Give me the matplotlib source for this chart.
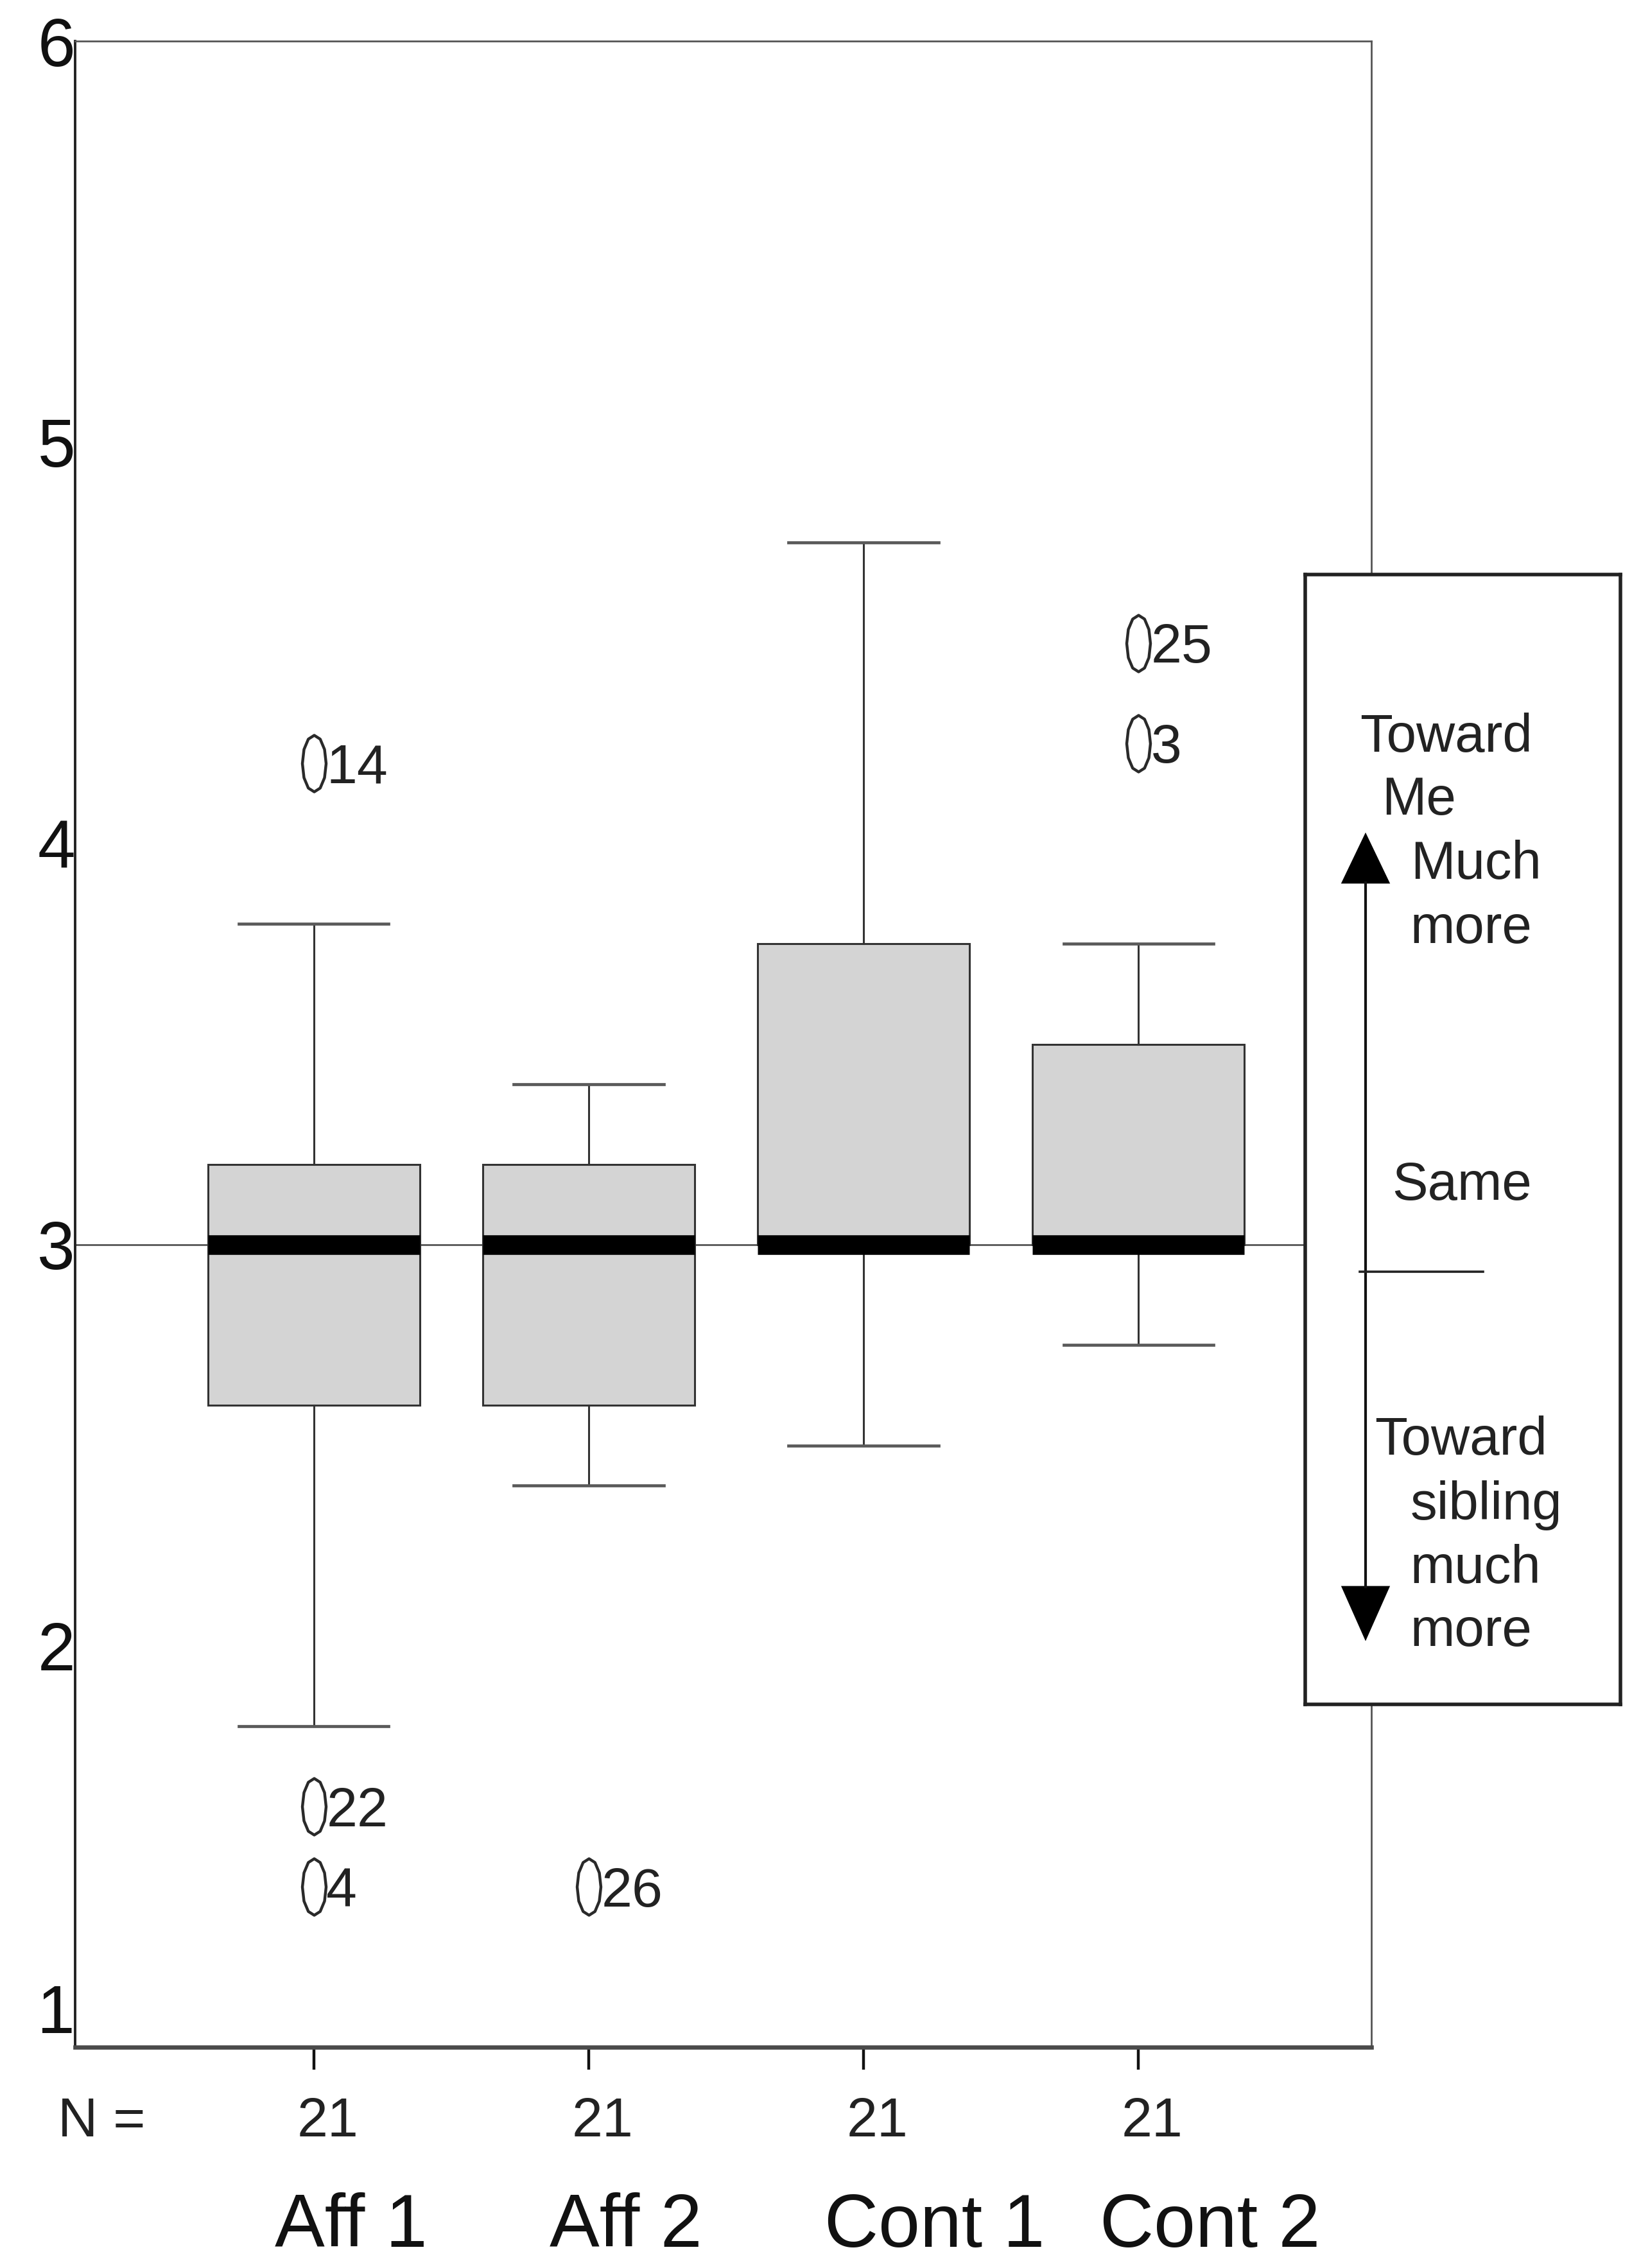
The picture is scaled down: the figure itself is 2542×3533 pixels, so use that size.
import matplotlib
matplotlib.use("Agg")
import numpy as np
import matplotlib.pyplot as plt
from matplotlib.path import Path
from matplotlib.patches import Polygon
from matplotlib.transforms import blended_transform_factory

# ---- data -------------------------------------------------------------
groups = ["Aff 1", "Aff 2", "Cont 1", "Cont 2"]
n_counts = [21, 21, 21, 21]
q1_vals = [2.6, 2.6, 3.0, 3.0]
median_vals = [3.0, 3.0, 3.0, 3.0]
q3_vals = [3.2, 3.2, 3.75, 3.5]
whisker_low = [1.8, 2.4, 2.5, 2.75]
whisker_high = [3.8, 3.4, 4.75, 3.75]
outlier_values = [[4.2, 1.6, 1.4], [1.4], [], [4.5, 4.25]]
outlier_ids = [["14", "22", "4"], ["26"], [], ["25", "3"]]
y_ticks = [1, 2, 3, 4, 5, 6]
reference_level = 3

# ---- figure setup -----------------------------------------------------
W, H, DPI = 2542, 3533, 200
fig = plt.figure(figsize=(W / DPI, H / DPI), dpi=DPI)
fig.patch.set_facecolor("white")

SANS = ["Liberation Sans", "DejaVu Sans"]


def fx(px):
    return px / W


def fy(py):
    return 1 - py / H


ax = fig.add_axes([fx(117), fy(3189), fx(2136) - fx(117), fy(64) - fy(3189)])

positions = np.arange(1, len(groups) + 1)
stats = []
for g, lo, a, m, b, hi, fl in zip(groups, whisker_low, q1_vals, median_vals,
                                  q3_vals, whisker_high, outlier_values):
    stats.append(dict(label=g, whislo=lo, q1=a, med=m, q3=b, whishi=hi,
                      fliers=np.array(fl, dtype=float)))

# tall open ellipse used for outlying cases
t = np.linspace(0, 2 * np.pi, 13)
ell = np.column_stack([0.42 * np.sin(t), np.cos(t)])
ellipse_marker = Path(ell, closed=True)

ax.axhline(reference_level, color="#555555", lw=1.0, zorder=0.5)

ax.bxp(stats, positions=positions, widths=0.77, capwidths=0.545,
       patch_artist=True, showfliers=True,
       boxprops=dict(facecolor="#d4d4d4", edgecolor="#333333", linewidth=1.1),
       medianprops=dict(color="black", linewidth=11, solid_capstyle="butt"),
       whiskerprops=dict(color="#333333", linewidth=1.1),
       capprops=dict(color="#5a5a5a", linewidth=1.7),
       flierprops=dict(marker=ellipse_marker, markersize=31.7,
                       markerfacecolor="none", markeredgecolor="#2a2a2a",
                       markeredgewidth=1.6))

for pos, vals, ids in zip(positions, outlier_values, outlier_ids):
    for v, lab in zip(vals, ids):
        ax.annotate(lab, (pos, v), xytext=(7, -11), textcoords="offset points",
                    ha="left", va="baseline", fontsize=31, family=SANS,
                    color="#222222")

ax.set_xlim(0.132, 4.847)
ax.set_ylim(1, 6)
ax.set_yticks(y_ticks)
ax.set_yticklabels([str(v) for v in y_ticks], fontsize=38, family=SANS,
                   color="#111111")
ax.get_yticklabels()[0].set_va("bottom")
ax.tick_params(axis="y", length=0, pad=0)
ax.set_xticks(positions)
ax.set_xticklabels([""] * len(positions))
ax.tick_params(axis="x", length=12.6, width=1.6, direction="out",
               color="#111111")

ax.spines["bottom"].set(linewidth=2.4, color="#4a4a4a")
ax.spines["left"].set(linewidth=1.4, color="#222222")
ax.spines["top"].set(linewidth=1.0, color="#555555")
ax.spines["right"].set(linewidth=1.0, color="#555555")

# case counts and group names under the axis
btrans = blended_transform_factory(ax.transData, fig.transFigure)
fig.text(fx(90), fy(3328), "N =", ha="left", va="baseline", fontsize=31,
         family=SANS, color="#222222")
for pos, n in zip(positions, n_counts):
    ax.text(pos + 0.05, fy(3328), str(n), transform=btrans, ha="center",
            va="baseline", fontsize=31, family=SANS, color="#222222")
for pos, g in zip(positions, groups):
    ax.text(pos - 0.142, fy(3500), g, transform=btrans, ha="left",
            va="baseline", fontsize=42, family=SANS, color="#111111")

# ---- direction key on the right --------------------------------------
kx0, kx1, ky0, ky1 = 2033, 2524, 895, 2655
key = fig.add_axes([fx(kx0), fy(ky1), fx(kx1) - fx(kx0), fy(ky0) - fy(ky1)],
                   zorder=5)
key.set_xlim(kx0, kx1)
key.set_ylim(ky1, ky0)
key.set_facecolor("white")
key.set_xticks([])
key.set_yticks([])
for s in key.spines.values():
    s.set(linewidth=2.0, color="#222222")

shaft_x = 2127
key.plot([shaft_x, shaft_x], [1375, 2472], color="#111111", lw=1.5)
key.add_patch(Polygon([[shaft_x - 36, 1375], [shaft_x + 36, 1375],
                       [shaft_x, 1300]], closed=True, color="black"))
key.add_patch(Polygon([[shaft_x - 36, 2472], [shaft_x + 36, 2472],
                       [shaft_x, 2553]], closed=True, color="black"))
key.plot([2118, 2310], [1981, 1981], color="#222222", lw=1.3)

key_lines = [
    (2118, 1171, "Toward"),
    (2152, 1269, "Me"),
    (2197, 1369, "Much"),
    (2197, 1469, "more"),
    (2168, 1869, "Same"),
    (2141, 2266, "Toward"),
    (2197, 2367, "sibling"),
    (2197, 2466, "much"),
    (2197, 2564, "more"),
]
for x, y, s in key_lines:
    key.text(x, y, s, ha="left", va="baseline", fontsize=30, family=SANS,
             color="#222222")

fig.savefig("out.png", dpi=DPI, facecolor="white")
